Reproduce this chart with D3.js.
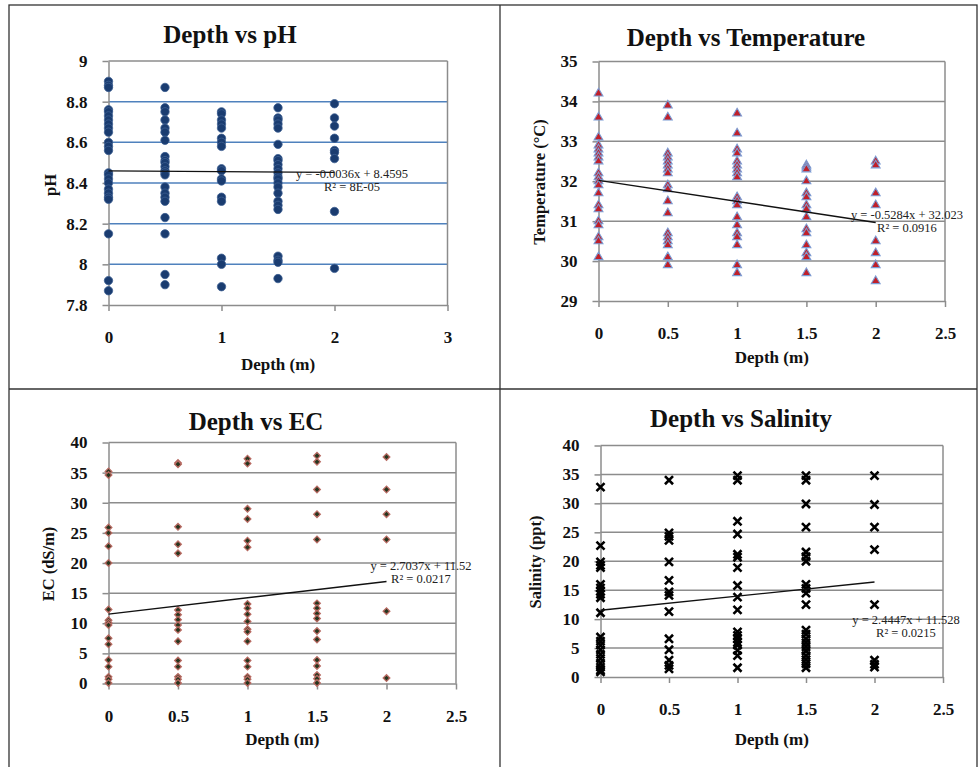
<!DOCTYPE html>
<html><head><meta charset="utf-8">
<script src="https://cdn.jsdelivr.net/npm/d3@7"></script>
<style>
body{margin:0;background:#fff;}
svg{display:block;}
text{font-family:"Liberation Serif","Times New Roman",serif;}
</style></head>
<body><svg id="c" width="978" height="767"></svg>
<script>
// ---------- DATA ----------
const depths = [0, 0.5, 1, 1.5, 2];

const phValues = [
  [8.90,8.88,8.87,8.76,8.75,8.73,8.71,8.69,8.67,8.65,8.60,8.58,8.56,8.45,8.44,8.42,8.40,8.37,8.35,8.33,8.32,8.15,7.92,7.87],
  [8.87,8.77,8.75,8.71,8.67,8.65,8.61,8.53,8.51,8.50,8.48,8.46,8.45,8.44,8.38,8.35,8.33,8.31,8.23,8.15,7.95,7.90],
  [8.75,8.74,8.71,8.69,8.67,8.62,8.60,8.58,8.47,8.46,8.42,8.41,8.33,8.31,8.03,8.00,7.89],
  [8.77,8.72,8.71,8.69,8.67,8.59,8.52,8.51,8.49,8.47,8.45,8.43,8.42,8.40,8.38,8.35,8.31,8.29,8.27,8.04,8.02,8.01,7.93],
  [8.79,8.72,8.68,8.62,8.56,8.55,8.52,8.26,7.98]
];
const tempValues = [
  [34.2,33.6,33.1,32.9,32.8,32.7,32.6,32.5,32.2,32.1,32.0,31.9,31.7,31.4,31.3,31.0,30.9,30.6,30.5,30.1],
  [33.9,33.6,32.7,32.6,32.5,32.4,32.3,32.2,31.9,31.8,31.5,31.2,30.7,30.6,30.5,30.4,30.1,29.9],
  [33.7,33.2,32.8,32.7,32.5,32.4,32.3,32.2,32.1,31.6,31.5,31.4,31.1,30.9,30.7,30.6,30.4,29.9,29.7],
  [32.4,32.35,32.3,32.0,31.7,31.6,31.4,31.3,31.1,30.8,30.7,30.4,30.2,30.1,29.7],
  [32.5,32.4,31.7,31.4,30.5,30.2,29.9,29.5]
];
const ecValues = [
  [35.2,34.6,25.9,25.0,22.8,20.0,12.3,10.5,10.1,9.7,7.5,6.5,3.9,2.8,1.1,0.7,0.1],
  [36.6,36.4,26.0,23.1,21.6,12.2,11.4,10.6,9.7,8.9,7.0,3.8,2.8,1.1,0.7,0.1],
  [37.3,36.5,29.0,27.3,23.7,22.6,13.2,12.5,11.5,10.3,9.0,8.6,7.0,3.8,2.8,1.1,0.7,0.1],
  [37.8,36.8,32.2,28.1,23.9,13.3,12.5,11.6,10.8,8.7,7.3,3.9,2.9,1.4,0.8,0.1],
  [37.6,32.2,28.1,23.9,12.0,0.9]
];
const salValues = [
  [32.8,22.7,19.9,19.3,18.9,16.0,15.4,14.8,14.3,13.7,11.1,6.9,6.2,5.5,4.7,3.9,3.2,2.4,1.7,1.2,0.9],
  [34.0,24.9,24.3,23.6,19.9,16.7,14.7,14.1,11.3,6.6,4.7,2.9,2.0,1.4],
  [34.8,34.0,26.9,24.7,21.2,20.7,18.9,15.8,13.8,11.6,7.8,7.2,6.6,6.0,5.5,4.6,3.7,1.6],
  [34.8,34.0,29.9,25.9,21.6,20.8,20.0,16.0,15.3,14.5,12.5,8.1,7.4,6.6,5.9,5.2,4.5,3.7,3.0,2.3,1.6],
  [34.8,29.8,25.9,22.0,12.5,2.9,2.2,1.7]
];

const titles = ["Depth vs pH", "Depth vs Temperature", "Depth vs EC", "Depth vs Salinity"];
const yTitles = ["pH", "Temperature (\u00B0C)", "EC (dS/m)", "Salinity (ppt)"];
const xTitle = "Depth (m)";
const phTicksY = [7.8, 8, 8.2, 8.4, 8.6, 8.8, 9];
const tempTicksY = [29, 30, 31, 32, 33, 34, 35];
const ecTicksY = [0, 5, 10, 15, 20, 25, 30, 35, 40];
const salTicksY = [0, 5, 10, 15, 20, 25, 30, 35, 40];
const phTicksX = [0, 1, 2, 3];
const depthTicksX = [0, 0.5, 1, 1.5, 2, 2.5];
const trendSlopes = [-0.0036, -0.5284, 2.7037, 2.4447];
const trendIntercepts = [8.4595, 32.023, 11.52, 11.528];
const trendEquations = ["y = -0.0036x + 8.4595", "y = -0.5284x + 32.023", "y = 2.7037x + 11.52", "y = 2.4447x + 11.528"];
const trendR2 = ["R\u00B2 = 8E-05", "R\u00B2 = 0.0916", "R\u00B2 = 0.0217", "R\u00B2 = 0.0215"];

// ---------- LAYOUT ----------
const svg = d3.select("#c");
const panels = [
  {values: phValues, yTicks: phTicksY, xTicks: phTicksX, xMax: 3,
   box: {l:108.5, r:447.5, t:61, b:305}, grid:"#4f81bd", marker:"circle",
   title:{x:230, y:34}, yt:{x:50, y:185}, xt:{y:364}, eq:{x:352, y:178}},
  {values: tempValues, yTicks: tempTicksY, xTicks: depthTicksX, xMax: 2.5,
   box: {l:598.5, r:945, t:61.5, b:301}, grid:"#8c8c8c", marker:"triangle",
   title:{x:746, y:37}, yt:{x:539, y:182}, xt:{y:357}, eq:{x:907, y:219}},
  {values: ecValues, yTicks: ecTicksY, xTicks: depthTicksX, xMax: 2.5,
   box: {l:108.5, r:456, t:442.5, b:683.5}, grid:"#8c8c8c", marker:"diamond",
   title:{x:256, y:421}, yt:{x:48, y:564}, xt:{y:739}, eq:{x:421, y:570}},
  {values: salValues, yTicks: salTicksY, xTicks: depthTicksX, xMax: 2.5,
   box: {l:600.5, r:943, t:445.5, b:677}, grid:"#8c8c8c", marker:"cross",
   title:{x:741, y:418}, yt:{x:535, y:562}, xt:{y:739}, eq:{x:906, y:624}}
];

// frame
svg.append("rect").attr("x",9).attr("y",5).attr("width",968).attr("height",770)
  .attr("fill","none").attr("stroke","#333").attr("stroke-width",1.3);
svg.append("line").attr("x1",500).attr("x2",500).attr("y1",5).attr("y2",767).attr("stroke","#333").attr("stroke-width",1.3);
svg.append("line").attr("x1",9).attr("x2",977).attr("y1",389).attr("y2",389).attr("stroke","#333").attr("stroke-width",1.3);

panels.forEach((p, i) => {
  const b = p.box;
  const x = d3.scaleLinear().domain([0, p.xMax]).range([b.l, b.r]);
  const yDom = d3.extent(p.yTicks);
  const y = d3.scaleLinear().domain(yDom).range([b.b, b.t]);
  const g = svg.append("g");

  // gridlines (interior)
  g.selectAll(".gl").data(p.yTicks.slice(1, -1)).join("line")
    .attr("x1", b.l).attr("x2", b.r).attr("y1", d => y(d)).attr("y2", d => y(d))
    .attr("stroke", p.grid).attr("stroke-width", 1.5);
  // plot border top/right
  g.append("line").attr("x1", b.l).attr("x2", b.r).attr("y1", b.t).attr("y2", b.t).attr("stroke","#8c8c8c").attr("stroke-width",1.5);
  g.append("line").attr("x1", b.r).attr("x2", b.r).attr("y1", b.t).attr("y2", b.b).attr("stroke","#8c8c8c").attr("stroke-width",1.5);

  // axes
  const ay = g.append("g").attr("transform", `translate(${b.l},0)`)
    .call(d3.axisLeft(y).tickValues(p.yTicks).tickSize(6).tickPadding(15).tickSizeOuter(0)
      .tickFormat(d3.format("~g")));
  const ax = g.append("g").attr("transform", `translate(0,${b.b})`)
    .call(d3.axisBottom(x).tickValues(p.xTicks).tickSize(6).tickPadding(20).tickSizeOuter(0)
      .tickFormat(d3.format("~g")));
  [ay, ax].forEach(a => {
    a.select(".domain").attr("stroke","#8c8c8c").attr("stroke-width",1.5);
    a.selectAll(".tick line").attr("stroke","#8c8c8c").attr("stroke-width",1.5);
    a.selectAll(".tick text").attr("fill","#111").attr("font-size",17).attr("font-weight","bold")
      .style("font-family",'"Liberation Serif", serif');
  });

  // points
  const pts = [];
  p.values.forEach((arr, k) => arr.forEach(v => pts.push({d: depths[k], v})));
  const mg = g.append("g");
  if (p.marker === "circle") {
    mg.selectAll("circle").data(pts).join("circle")
      .attr("cx", d => x(d.d)).attr("cy", d => y(d.v)).attr("r", 4.2)
      .attr("fill", "#1a3c70").attr("stroke", "#3d5f92").attr("stroke-width", 0.8);
  } else if (p.marker === "triangle") {
    const sym = d3.symbol().type(d3.symbolTriangle).size(34);
    mg.selectAll("path").data(pts).join("path")
      .attr("transform", d => `translate(${x(d.d)},${y(d.v)})`).attr("d", sym)
      .attr("fill", "#c0202a").attr("stroke", "#7b9bd3").attr("stroke-width", 1.1);
  } else if (p.marker === "diamond") {
    const sym = d3.symbol().type(d3.symbolSquare).size(22);
    mg.selectAll("path").data(pts).join("path")
      .attr("transform", d => `translate(${x(d.d)},${y(d.v)}) rotate(45)`).attr("d", sym)
      .attr("fill", "#26361f").attr("stroke", "#b86a62").attr("stroke-width", 1.3);
  } else {
    const sym = d3.symbol().type(d3.symbolTimes).size(44);
    mg.selectAll("path").data(pts).join("path")
      .attr("transform", d => `translate(${x(d.d)},${y(d.v)})`).attr("d", sym)
      .attr("fill", "none").attr("stroke", "#000").attr("stroke-width", 2.6);
  }

  // trend line
  const tl = [0, 2].map(d => [x(d), y(trendSlopes[i] * d + trendIntercepts[i])]);
  g.append("path").attr("d", d3.line()(tl)).attr("stroke", "#111").attr("stroke-width", 1.4).attr("fill","none");

  // equation
  g.append("text").attr("x", p.eq.x).attr("y", p.eq.y).attr("text-anchor","middle")
    .attr("font-size", 12.5).attr("fill","#222").text(trendEquations[i]);
  g.append("text").attr("x", p.eq.x).attr("y", p.eq.y + 13).attr("text-anchor","middle")
    .attr("font-size", 12.5).attr("fill","#222").text(trendR2[i]);

  // titles
  g.append("text").attr("x", p.title.x).attr("y", p.title.y).attr("text-anchor","middle")
    .attr("dominant-baseline","central").attr("font-size", 25).attr("font-weight","bold").attr("fill","#111")
    .text(titles[i]);
  g.append("text").attr("x", (b.l + b.r) / 2).attr("y", p.xt.y).attr("text-anchor","middle")
    .attr("dominant-baseline","central").attr("font-size", 17).attr("font-weight","bold").attr("fill","#111")
    .text(xTitle);
  g.append("text").attr("transform", `translate(${p.yt.x},${p.yt.y}) rotate(-90)`).attr("text-anchor","middle")
    .attr("dominant-baseline","central").attr("font-size", 16.5).attr("font-weight","bold").attr("fill","#111")
    .text(yTitles[i]);
});
</script></body></html>
